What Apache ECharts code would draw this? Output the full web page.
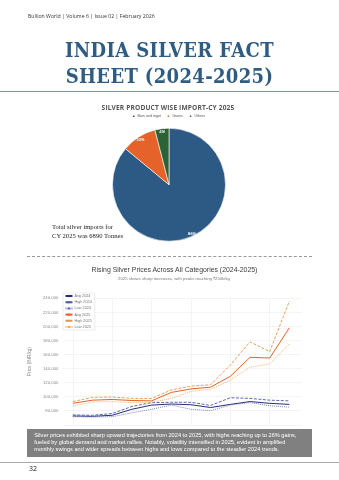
<!DOCTYPE html>
<html>
<head>
<meta charset="utf-8">
<script src="https://cdn.jsdelivr.net/npm/echarts@6/dist/echarts.min.js"></script>
<style>
html,body{margin:0;padding:0;background:#fff;}
body{width:339px;height:480px;position:relative;overflow:hidden;font-family:"Open Sans",sans-serif;}
#chart{position:absolute;left:0;top:0;width:339px;height:480px;}
.abs{position:absolute;white-space:nowrap;}
.ctr{transform:translateX(-50%);text-align:center;}
#hdr{left:28px;top:13px;font-size:5.2px;color:#333;line-height:7px;}
.ttl{left:169.5px;font-family:"DejaVu Serif Condensed","DejaVu Serif",serif;font-stretch:condensed;font-weight:bold;color:#2f5c82;font-size:20px;line-height:22px;letter-spacing:0.35px;}
#rule1{left:0;top:91px;width:339px;height:0;border-top:1.5px solid #7e98ac;}
#pieTitle{left:168px;top:104px;font-family:"Open Sans",sans-serif;font-weight:bold;font-size:6.6px;line-height:8px;color:#555;letter-spacing:0.15px;}
#lineTitle{left:174.5px;top:265px;font-family:"Liberation Sans",Arial,sans-serif;font-size:6.9px;line-height:9px;color:#3c3c3c;}
#lineSub{left:174px;top:275.5px;font-family:"Liberation Sans",Arial,sans-serif;font-size:4.25px;line-height:6px;color:#777;}
#note{left:52px;top:222px;font-family:"Liberation Serif",serif;font-size:6.6px;line-height:9.4px;color:#222;}
#sep{left:27px;top:255.5px;width:285px;height:0;border-top:1px dashed #9a9a9a;}
#box{left:27px;top:429px;width:285px;height:28px;background:#808080;z-index:5;}
#boxtxt{left:34.3px;top:432.3px;font-family:"Liberation Sans",Arial,sans-serif;font-size:5.65px;line-height:6.7px;color:#fff;z-index:6;}
#rule2{left:0;top:462px;width:339px;height:0;border-top:1px solid #a8a8a8;}
#pg{left:29px;top:464px;font-size:7px;line-height:9px;color:#222;}
</style>
</head>
<body>
<div id="chart"></div>
<div class="abs" id="hdr">Bullion World | Volume 6 | Issue 02 | February 2026</div>
<div class="abs ttl ctr" style="top:39px;">INDIA SILVER FACT</div>
<div class="abs ttl ctr" style="top:65px;">SHEET (2024-2025)</div>
<div class="abs" id="rule1"></div>
<div class="abs ctr" id="pieTitle">SILVER PRODUCT WISE IMPORT-CY 2025</div>
<div class="abs" id="note">Total silver imports for<br>CY 2025 was 6890 Tonnes</div>
<div class="abs" id="sep"></div>
<div class="abs ctr" id="lineTitle">Rising Silver Prices Across All Categories (2024-2025)</div>
<div class="abs ctr" id="lineSub">2025 shows sharp increases, with peaks reaching ₹250k/kg</div>
<div class="abs" id="box"></div>
<div class="abs" id="boxtxt">Silver prices exhibited sharp upward trajectories from 2024 to 2025, with highs reaching up to 26% gains,<br>fueled by global demand and market rallies. Notably, volatility intensified in 2025, evident in amplified<br>monthly swings and wider spreads between highs and lows compared to the steadier 2024 trends.</div>
<div class="abs" id="rule2"></div>
<div class="abs" id="pg">32</div>
<script>
// ---- Pie data ----
const pieNames = ['Bars and ingot', 'Grains', 'Others'];
const pieValues = [86, 10, 4];
const pieColors = ['#2c5a84', '#e5622b', '#2b6337'];

// ---- Line data ----
const months = ['Jan','Feb','Mar','Apr','May','Jun','Jul','Aug','Sep','Oct','Nov','Dec'];
const avg2024  = [72500, 72000, 73500, 82000, 88000, 89500, 88500, 84500, 89000, 93000, 90500, 89000];
const high2024 = [74000, 73500, 76000, 86000, 91500, 92000, 92000, 87500, 98500, 97500, 95000, 94000];
const low2024  = [71500, 71000, 71500, 77000, 82000, 88000, 82000, 80000, 88000, 91500, 87000, 85000];
const avg2025  = [90500, 95000, 96000, 94500, 94000, 106000, 111000, 113500, 129000, 156000, 155000, 198000];
const high2025 = [93000, 99000, 99500, 97500, 97500, 109500, 115000, 117000, 145000, 178000, 164000, 236000];
const low2025  = [86500, 92500, 93000, 91500, 92000, 97500, 107500, 110500, 123500, 142000, 146500, 175000];
const yTicks = [60000, 240000, 20000]; // min, max, interval

const lineSeriesDef = [
  {name:'Avg 2024', data:avg2024, color:'#262d78', type:'solid', w:1},
  {name:'High 2024', data:high2024, color:'#4a58a2', type:'dashed', w:0.9},
  {name:'Low 2024', data:low2024, color:'#6b78b8', type:'dotted', w:0.9},
  {name:'Avg 2025', data:avg2025, color:'#e0622a', type:'solid', w:1},
  {name:'High 2025', data:high2025, color:'#e89548', type:'dashed', w:0.9},
  {name:'Low 2025', data:low2025, color:'#f0ad5c', type:'dotted', w:0.9}
];

const chart = echarts.init(document.getElementById('chart'), null, {renderer:'canvas'});
const fmt = v => v.toLocaleString('en-US');
const gridTop = 298.3, gridBottom = 55.25;

const option = {
  animation:false,
  legend:[
    {data:pieNames, top:113.5, left:131, padding:0, itemWidth:3.5, itemHeight:3.5, itemGap:5,
     icon:'rect', textStyle:{fontSize:3.6, color:'#555', padding:[0,0,0,-3]}},
    {data:lineSeriesDef.map(s=>s.name), orient:'vertical', left:63, top:293, itemWidth:7, itemHeight:3,
     itemGap:2.2, padding:[1,3,1,1.5], backgroundColor:'#fff', borderColor:'#d8d8d8', borderWidth:0.5,
     textStyle:{fontSize:3.8, color:'#777', padding:[0,0,0,-3]}}
  ],
  grid:[
    {left:63, right:37, top:gridTop, bottom:gridBottom},
    {left:72.8, right:49.6, top:gridTop, bottom:gridBottom}
  ],
  xAxis:[
    {gridIndex:0, type:'value', show:false, min:0, max:1},
    {gridIndex:1, type:'category', data:months, boundaryGap:false,
     axisLine:{show:false}, axisTick:{show:false}, axisLabel:{show:false},
     splitLine:{show:true, lineStyle:{color:'#ececec', width:0.6}}}
  ],
  yAxis:[
    {gridIndex:0, type:'value', min:yTicks[0], max:yTicks[1], interval:yTicks[2],
     axisLine:{show:false}, axisTick:{show:false},
     axisLabel:{fontSize:4.3, color:'#8a8a8a', margin:4.5, fontFamily:'Liberation Sans',
       formatter:v => v === yTicks[0] ? '' : fmt(v)},
     splitLine:{lineStyle:{color:'#ececec', width:0.6}},
     name:'Price (INR/kg)', nameLocation:'middle', nameGap:19, nameRotate:90,
     nameTextStyle:{fontSize:4.6, color:'#8a8a8a', fontFamily:'Liberation Sans'}},
    {gridIndex:1, type:'value', min:yTicks[0], max:yTicks[1], interval:yTicks[2], show:false,
     splitLine:{show:false}}
  ],
  series:[
    {type:'pie', center:[169,184.7], radius:56.5, startAngle:90, clockwise:true,
     data:pieNames.map((n,i)=>({name:n, value:pieValues[i], itemStyle:{color:pieColors[i]}})),
     itemStyle:{borderColor:'#fff', borderWidth:0.6},
     label:{show:false}, labelLine:{show:false}, emphasis:{disabled:true}},
    {type:'pie', center:[169,184.7], radius:[45,56.5], startAngle:90, clockwise:true,
     legendHoverLink:false, silent:true,
     data:pieNames.map((n,i)=>({name:n+' ', value:pieValues[i]})),
     itemStyle:{color:'rgba(0,0,0,0)', borderWidth:0},
     label:{show:true, position:'inside', formatter:p=>p.value+'%', fontSize:4.2, color:'#fff', fontWeight:'bold', fontFamily:'Lato'},
     labelLine:{show:false}, emphasis:{disabled:true}},
    ...lineSeriesDef.map(s=>({
      name:s.name, type:'line', xAxisIndex:1, yAxisIndex:1, data:s.data,
      showSymbol:false, symbol:'circle', symbolSize:1.5,
      itemStyle:{color:s.color},
      lineStyle:{color:s.color, width:s.w, type:s.type === 'dashed' ? [3,1.5] : (s.type === 'dotted' ? [1,1] : 'solid')}
    }))
  ]
};
chart.setOption(option);
</script>
</body>
</html>
